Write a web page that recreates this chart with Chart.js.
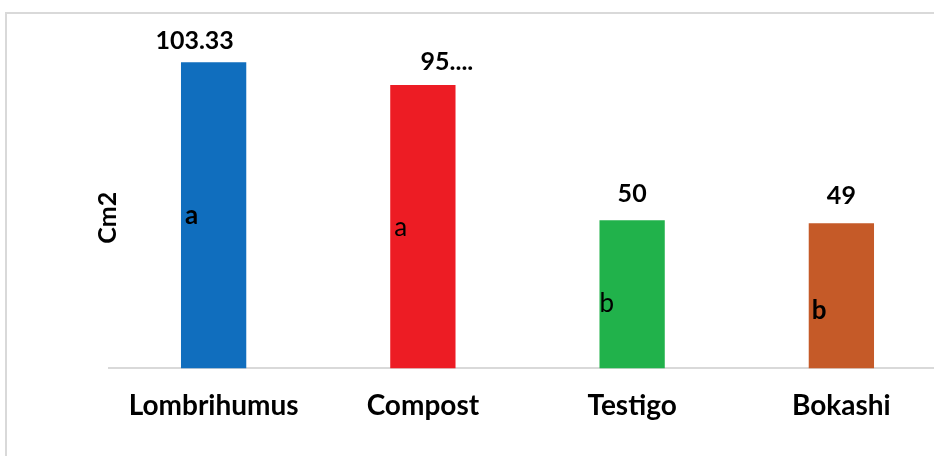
<!DOCTYPE html>
<html>
<head>
<meta charset="utf-8">
<script src="https://cdn.jsdelivr.net/npm/chart.js@4/dist/chart.umd.min.js"></script>
<style>
  html, body { margin: 0; padding: 0; background: #fff; overflow: hidden; }
  #frame {
    position: absolute; left: 5px; top: 12px; width: 940px; height: 460px;
    border-left: 2px solid #d9d9d9; border-top: 2px solid #d9d9d9;
  }
  #wrap { position: absolute; left: 0; top: 0; width: 960px; height: 456px; }
</style>
</head>
<body>
<div id="frame"></div>
<div id="wrap"><canvas id="areaChart"></canvas></div>
<script>
// categories and values
const categories = ['Lombrihumus', 'Compost', 'Testigo', 'Bokashi'];
const areaValues = [103.33, 95.67, 50, 49];
const valueLabels = ['103.33', '95....', '50', '49'];
const groupLetters = ['a', 'a', 'b', 'b'];
const barColors = ['#106EBE', '#ED1C24', '#21B24B', '#C55A28'];

// draws the number above each bar and the group letter inside it
const barTextPlugin = {
    id: 'barText',
    afterDatasetsDraw(chart, args, opts) {
        const ctx = chart.ctx;
        const yScale = chart.scales.y;
        const bars = chart.getDatasetMeta(0).data;
        ctx.save();
        ctx.fillStyle = '#000';
        bars.forEach((bar, i) => {
            // value label
            ctx.font = 'bold 25px Lato';
            ctx.textAlign = 'center';
            ctx.textBaseline = 'alphabetic';
            ctx.fillText(valueLabels[i], bar.x + opts.labelDx[i], bar.y - opts.labelGap[i]);

            // letter
            ctx.font = (opts.letterBold[i] ? 'bold ' : '') + '26px Lato';
            ctx.textAlign = 'left';
            const left = bar.x - bar.width / 2;
            ctx.fillText(groupLetters[i], left + opts.letterDx[i], yScale.getPixelForValue(opts.letterAt[i]));
        });

        // y title
        ctx.font = 'bold 25px Lato';
        ctx.textAlign = 'center';
        ctx.textBaseline = 'middle';
        ctx.translate(chart.chartArea.left - 1, (chart.chartArea.top + chart.chartArea.bottom) / 2 + 27);
        ctx.rotate(-Math.PI / 2);
        ctx.fillText('Cm2', 0, 0);
        ctx.restore();
    }
};

const ctx = document.getElementById('areaChart').getContext('2d');
const areaChart = new Chart(ctx, {
    type: 'bar',
    data: {
        labels: categories,
        datasets: [{
            data: areaValues,
            backgroundColor: barColors,
            borderWidth: 0,
            categoryPercentage: 1,
            barPercentage: 0.312
        }]
    },
    options: {
        responsive: true,
        maintainAspectRatio: false,
        animation: false,
        layout: {
            padding: { left: 109, right: 14, top: 13, bottom: 12 }
        },
        plugins: {
            legend: { display: false },
            tooltip: { enabled: false },
            barText: {
                labelDx: [-19, 24, 0, 0],
                labelGap: [13, 15, 18, 19],
                letterDx: [4, 4, 0, 3],
                letterAt: [48.7, 44.7, 18.9, 16.8],
                letterBold: [true, false, false, true]
            }
        },
        scales: {
            x: {
                grid: { display: false, drawTicks: false },
                border: { display: true, color: '#d9d9d9', width: 2 },
                ticks: {
                    color: '#000',
                    padding: 21,
                    font: { family: 'Lato', size: 28, weight: 'bold' }
                }
            },
            y: {
                display: false,
                min: 0,
                max: 120
            }
        }
    },
    plugins: [barTextPlugin]
});
</script>
</body>
</html>
